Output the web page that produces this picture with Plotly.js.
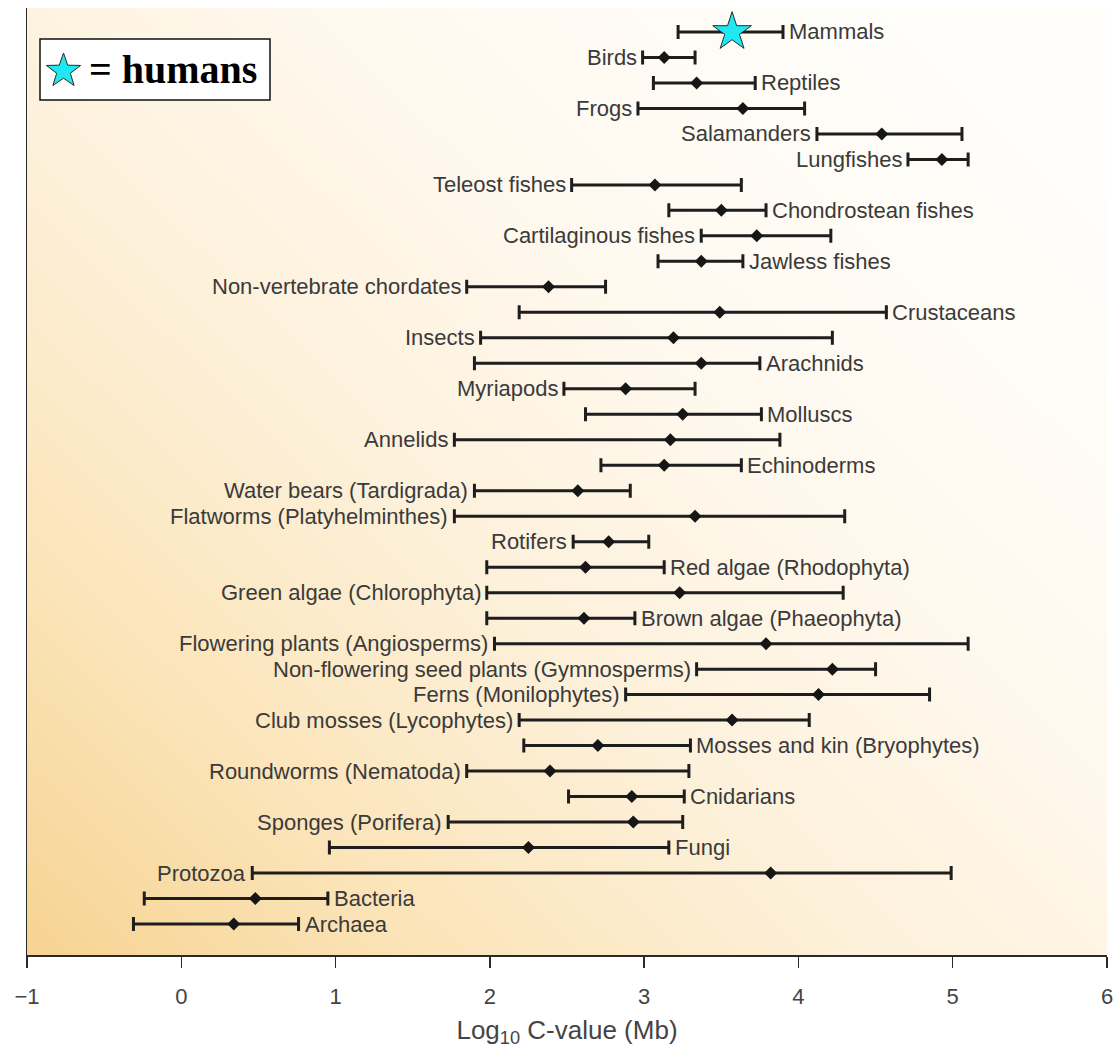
<!DOCTYPE html>
<html><head><meta charset="utf-8">
<script src="https://cdn.plot.ly/plotly-3.0.1.min.js"></script>
<style>html,body{margin:0;padding:0;background:#fff}#chart{width:1115px;height:1048px}</style>
</head><body><div id="chart"></div>
<script>
// ---- data (top to bottom) ----
const categories = [
  'Mammals','Birds','Reptiles','Frogs','Salamanders','Lungfishes','Teleost fishes',
  'Chondrostean fishes','Cartilaginous fishes','Jawless fishes','Non-vertebrate chordates',
  'Crustaceans','Insects','Arachnids','Myriapods','Molluscs','Annelids','Echinoderms',
  'Water bears (Tardigrada)','Flatworms (Platyhelminthes)','Rotifers','Red algae (Rhodophyta)',
  'Green algae (Chlorophyta)','Brown algae (Phaeophyta)','Flowering plants (Angiosperms)',
  'Non-flowering seed plants (Gymnosperms)','Ferns (Monilophytes)','Club mosses (Lycophytes)',
  'Mosses and kin (Bryophytes)','Roundworms (Nematoda)','Cnidarians','Sponges (Porifera)',
  'Fungi','Protozoa','Bacteria','Archaea'
];
const lows  = [3.22,2.99,3.06,2.96,4.12,4.71,2.53,3.16,3.37,3.09,1.85,2.19,1.94,1.90,2.48,2.62,1.77,2.72,
               1.90,1.77,2.54,1.98,1.98,1.98,2.03,3.34,2.88,2.19,2.22,1.85,2.51,1.73,0.96,0.46,-0.24,-0.31];
const mids  = [3.57,3.13,3.34,3.64,4.54,4.93,3.07,3.50,3.73,3.37,2.38,3.49,3.19,3.37,2.88,3.25,3.17,3.13,
               2.57,3.33,2.77,2.62,3.23,2.61,3.79,4.22,4.13,3.57,2.70,2.39,2.92,2.93,2.25,3.82,0.48,0.34];
const highs = [3.90,3.33,3.72,4.04,5.06,5.10,3.63,3.79,4.21,3.64,2.75,4.57,4.22,3.75,3.33,3.76,3.88,3.63,
               2.91,4.30,3.03,3.13,4.29,2.94,5.10,4.50,4.85,4.07,3.30,3.29,3.26,3.25,3.16,4.99,0.95,0.76];
const labelSides = ['R','L','R','L','L','L','L','R','L','R','L','R','L','R','L','R','L','R',
                    'L','L','L','R','L','R','L','L','L','L','R','L','R','L','R','L','R','R'];
const humanGroup = 'Mammals';
const xTickValues = [-1,0,1,2,3,4,5,6];
const xTitle = 'Log<sub>10</sub> C-value (Mb)';
const legendText = '<b>= humans</b>';

// ---- derived ----
const n = categories.length;
const rows = categories.map((c,i) => n - 1 - i);
const isHuman = categories.map(c => c === humanGroup);

function makeBg(){
  const c = document.createElement('canvas');
  c.width = 1080; c.height = 947;
  const g = c.getContext('2d');
  const lg = g.createLinearGradient(0, c.height, c.width*0.85, 0);
  lg.addColorStop(0.00, '#F6D392');
  lg.addColorStop(0.20, '#FBE3B6');
  lg.addColorStop(0.45, '#FDF1DB');
  lg.addColorStop(0.70, '#FFF9F0');
  lg.addColorStop(1.00, '#FFFEFB');
  g.fillStyle = lg; g.fillRect(0,0,c.width,c.height);
  return c.toDataURL();
}
function starPath(R, r){
  let p = '';
  for(let k=0;k<10;k++){
    const rad = (k%2===0)?R:r;
    const a = Math.PI/2 + k*Math.PI/5;
    const x = rad*Math.cos(a), y = rad*Math.sin(a);
    p += (k===0?'M':'L') + x.toFixed(2) + ',' + y.toFixed(2);
  }
  return p + 'Z';
}

const trace = {
  type:'scatter', mode:'markers',
  x: mids, y: rows,
  error_x: {
    type:'data', symmetric:false,
    array: highs.map((h,i) => h - mids[i]),
    arrayminus: mids.map((m,i) => m - lows[i]),
    color:'#1e1e1e', thickness:3, width:7
  },
  marker: {
    symbol: isHuman.map(h => h ? 'star' : 'diamond'),
    size: isHuman.map(h => h ? 29 : 10),
    color: isHuman.map(h => h ? '#1FE8F0' : '#161616'),
    opacity: 1,
    line: {color:'#2a2a2a', width: isHuman.map(h => h ? 1 : 0)}
  },
  hoverinfo:'skip', showlegend:false, cliponaxis:false
};

const annotations = categories.map((c,i) => ({
  x: labelSides[i]==='R' ? highs[i] : lows[i], y: rows[i],
  xref:'x', yref:'y', text:c, showarrow:false,
  xanchor: labelSides[i]==='R' ? 'left' : 'right', yanchor:'middle',
  xshift: labelSides[i]==='R' ? 4 : -4,
  font:{family:'Liberation Sans, Arial, sans-serif', size:22, color:'#3a3a3a'}
}));
annotations.push({
  xref:'paper', yref:'paper', x:(87-27)/1080, y:(955-70)/947,
  xanchor:'left', yanchor:'middle', showarrow:false, text:legendText,
  font:{family:'Liberation Serif, Times New Roman, serif', size:40, color:'#000'}
});

const layout = {
  width:1115, height:1048,
  margin:{l:27, r:8, t:8, b:93},
  paper_bgcolor:'#ffffff', plot_bgcolor:'rgba(0,0,0,0)',
  xaxis:{
    range:[-1,6], tickvals:xTickValues, showgrid:false, zeroline:false,
    showline:true, linecolor:'#2a2a2a', linewidth:2,
    ticks:'outside', ticklen:11, tickwidth:1.5, tickcolor:'#2a2a2a',
    ticklabelstandoff:10,
    tickfont:{family:'Liberation Sans, Arial, sans-serif', size:22, color:'#444'},
    title:{text:xTitle, standoff:12, font:{family:'Liberation Sans, Arial, sans-serif', size:26, color:'#444'}}
  },
  yaxis:{
    range:[-1.216, 35.94], showgrid:false, zeroline:false, showticklabels:false,
    showline:true, linecolor:'#2a2a2a', linewidth:1.5, ticks:''
  },
  images:[{source:makeBg(), xref:'paper', yref:'paper', x:0, y:1, sizex:1, sizey:1,
           sizing:'stretch', xanchor:'left', yanchor:'top', layer:'below'}],
  shapes:[
    {type:'rect', xref:'paper', yref:'paper', x0:(40-27)/1080, x1:(270-27)/1080,
     y0:(955-100)/947, y1:(955-39)/947, fillcolor:'#ffffff', line:{color:'#111', width:1.5}},
    {type:'path', xref:'paper', yref:'paper', xsizemode:'pixel', ysizemode:'pixel',
     xanchor:(63.5-27)/1080, yanchor:(955-71)/947, path:starPath(18, 7.2),
     fillcolor:'#1FE8F0', line:{color:'#2a2a2a', width:1}}
  ],
  annotations: annotations,
  showlegend:false
};

Plotly.newPlot('chart', [trace], layout, {displayModeBar:false, staticPlot:true});
</script>
</body></html>
